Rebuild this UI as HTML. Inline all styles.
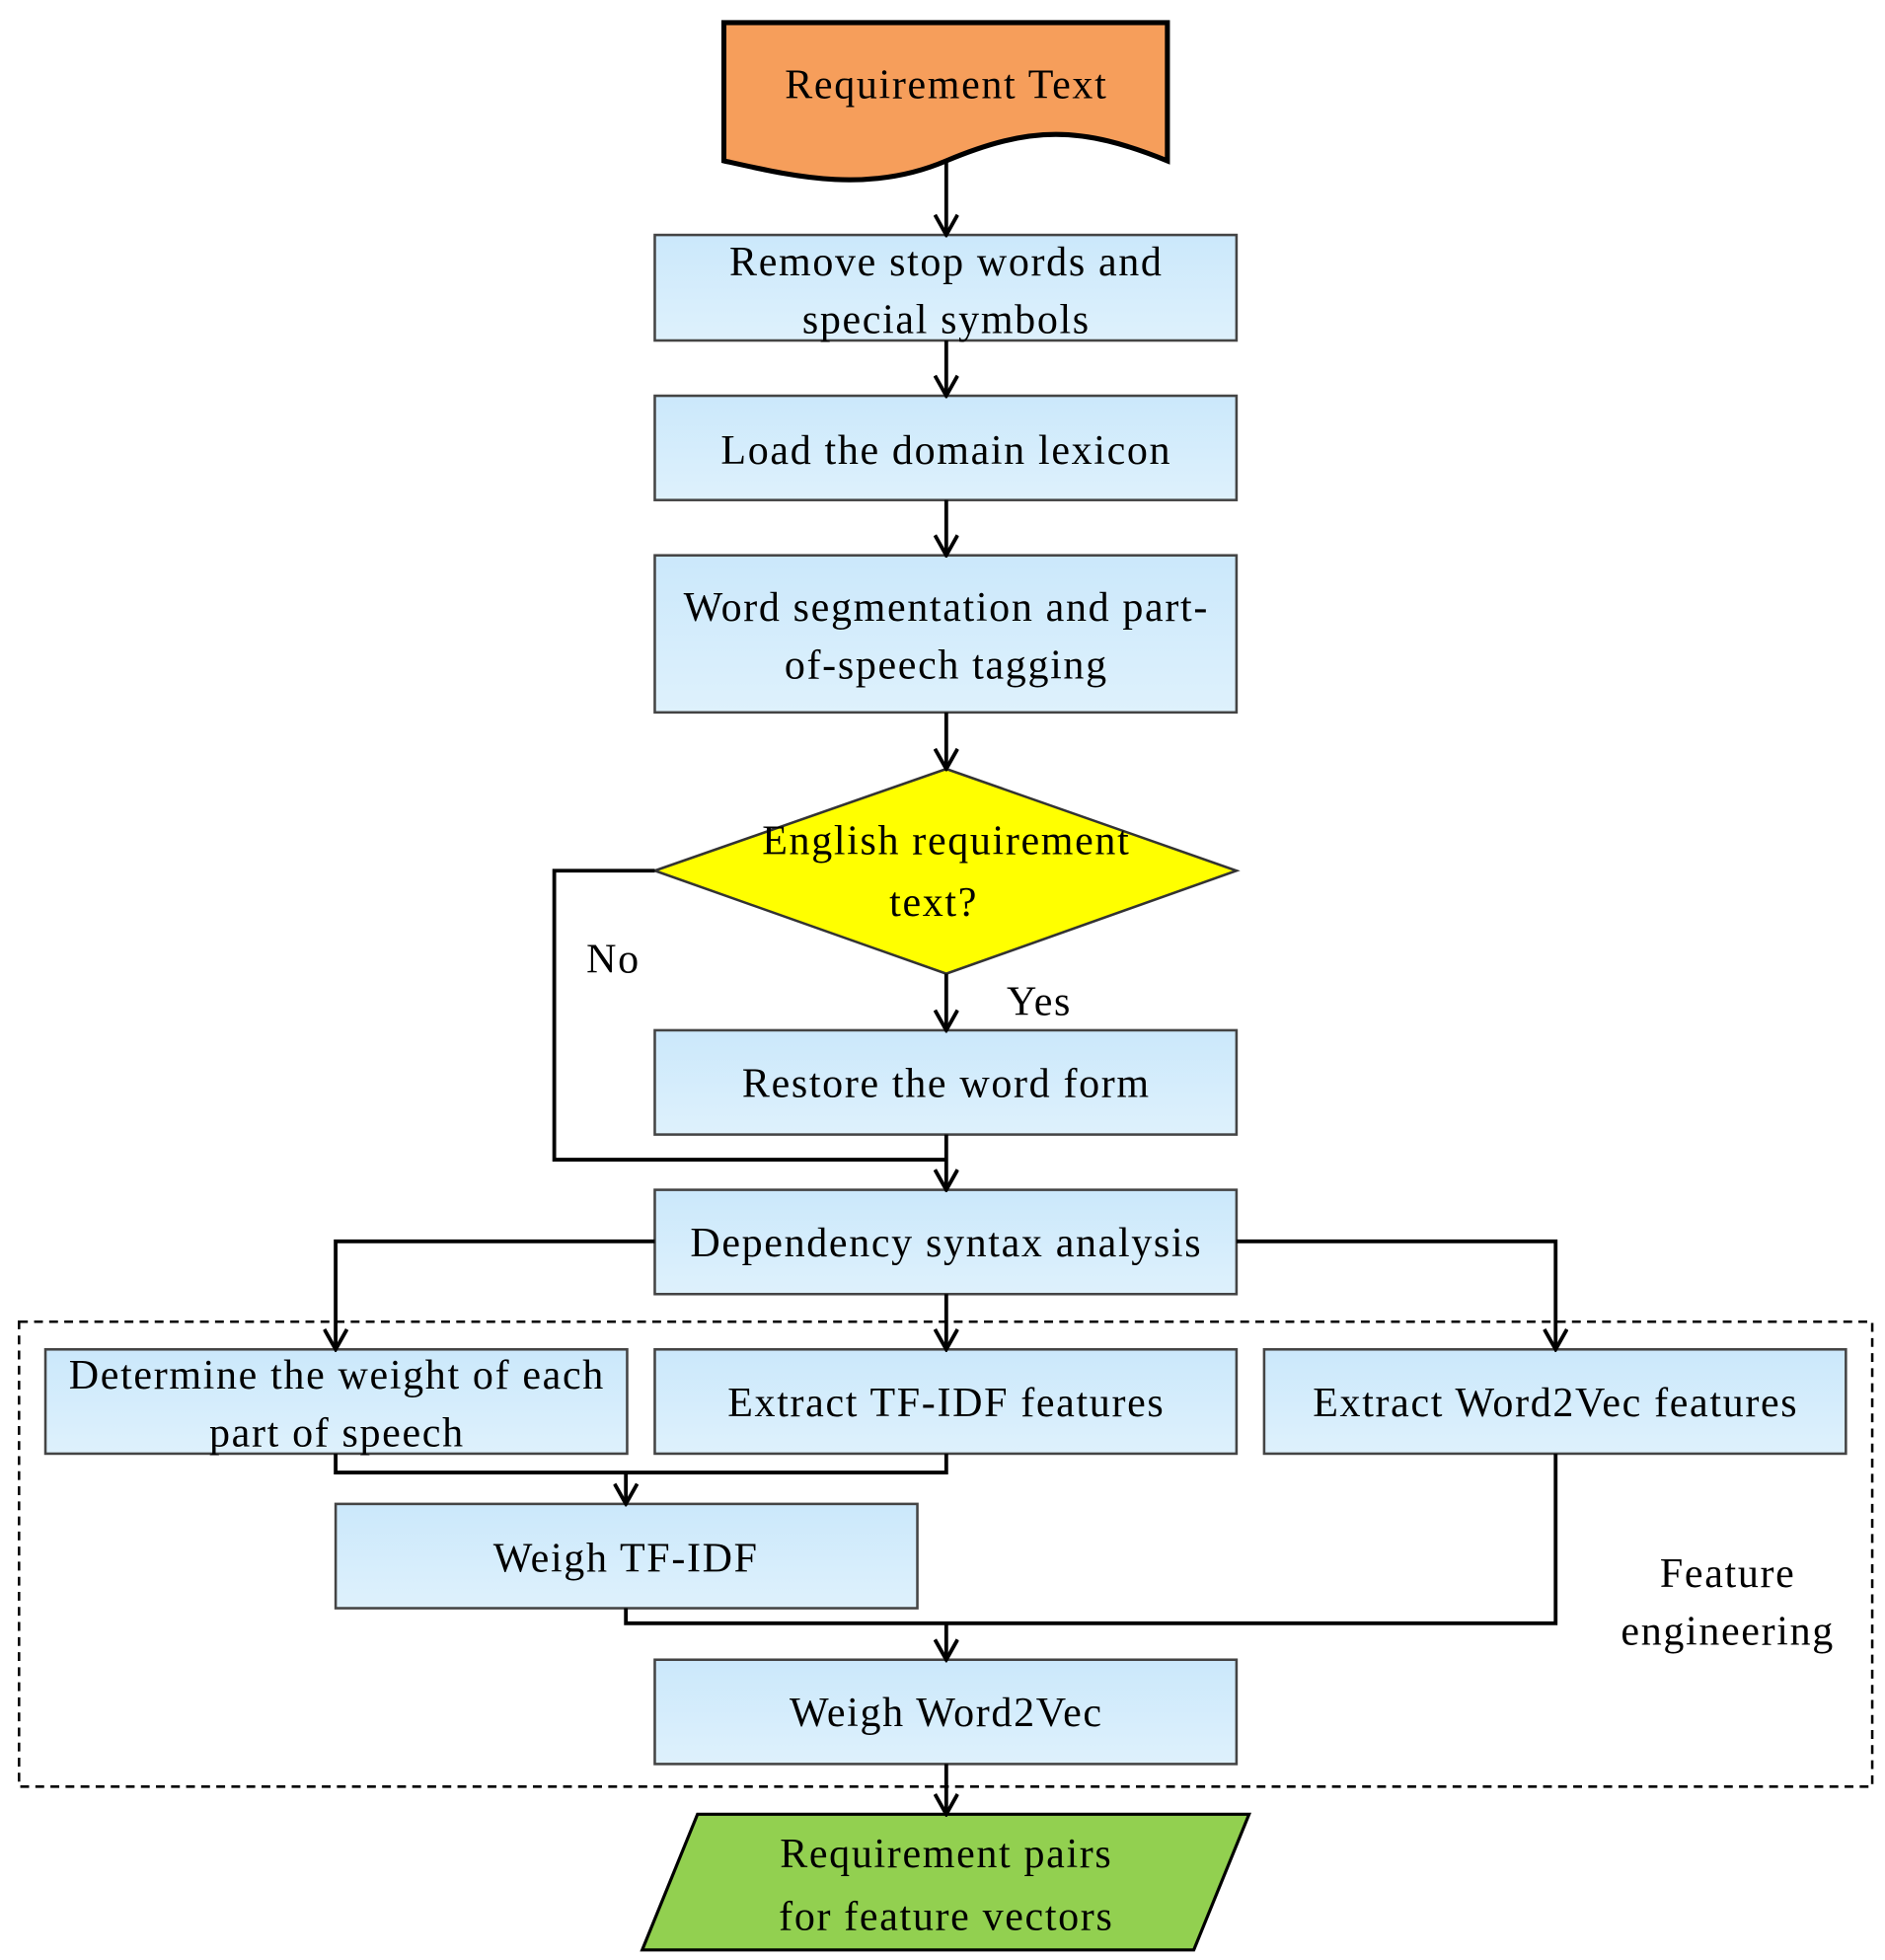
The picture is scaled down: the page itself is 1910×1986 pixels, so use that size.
<!DOCTYPE html>
<html><head><style>html,body{margin:0;padding:0;background:#fff}svg{display:block}</style></head><body>
<svg width="1910" height="1986" viewBox="0 0 1500 1560" xmlns="http://www.w3.org/2000/svg" font-family="Liberation Serif, serif" font-size="33" letter-spacing="1.3" text-anchor="middle">
<defs>
<linearGradient id="g" x1="0" y1="0" x2="0" y2="1"><stop offset="0" stop-color="#CBE8FB"/><stop offset="1" stop-color="#DEF1FC"/></linearGradient>
<marker id="a" viewBox="0 0 20 20" refX="18" refY="10" markerWidth="20" markerHeight="20" markerUnits="userSpaceOnUse" orient="auto"><path d="M2,1 L18,10 L2,19" fill="none" stroke="#000" stroke-width="3"/></marker>
</defs>
<path d="M576,18 H929 V128 C860,100 820,100 753,128 C690,155 630,140 576,128 Z" fill="#F69E5B" stroke="#000" stroke-width="4"/>
<text x="753" y="78">Requirement Text</text>
<g fill="url(#g)" stroke="#444" stroke-width="2">
<rect x="521" y="187" width="463" height="84"/>
<rect x="521" y="315" width="463" height="83"/>
<rect x="521" y="442" width="463" height="125"/>
<rect x="521" y="820" width="463" height="83"/>
<rect x="521" y="947" width="463" height="83"/>
<rect x="36" y="1074" width="463" height="83"/>
<rect x="521" y="1074" width="463" height="83"/>
<rect x="1006" y="1074" width="463" height="83"/>
<rect x="267" y="1197" width="463" height="83"/>
<rect x="521" y="1321" width="463" height="83"/>
</g>
<path d="M521,693 L753,612 L984,693 L753,775 Z" fill="#FFFF00" stroke="#333" stroke-width="2"/>
<path d="M555,1444 H994 L950,1552 H511 Z" fill="#92D050" stroke="#000" stroke-width="2.5"/>
<rect x="15" y="1052" width="1475" height="370" fill="none" stroke="#000" stroke-width="2" stroke-dasharray="7,5"/>
<g fill="none" stroke="#000" stroke-width="3">
<path d="M753,128 V187" marker-end="url(#a)"/>
<path d="M753,271 V315" marker-end="url(#a)"/>
<path d="M753,398 V442" marker-end="url(#a)"/>
<path d="M753,567 V612" marker-end="url(#a)"/>
<path d="M753,775 V820" marker-end="url(#a)"/>
<path d="M753,903 V947" marker-end="url(#a)"/>
<path d="M521,693 H441 V923 H753"/>
<path d="M521,988 H267 V1074" marker-end="url(#a)"/>
<path d="M984,988 H1238 V1074" marker-end="url(#a)"/>
<path d="M753,1030 V1074" marker-end="url(#a)"/>
<path d="M267,1157 V1172 H753 V1157"/>
<path d="M498,1172 V1197" marker-end="url(#a)"/>
<path d="M498,1280 V1292 H1238 V1157"/>
<path d="M753,1292 V1321" marker-end="url(#a)"/>
<path d="M753,1404 V1444" marker-end="url(#a)"/>
</g>
<g fill="#000">
<text x="753" y="219">Remove stop words and</text>
<text x="753" y="265">special symbols</text>
<text x="753" y="369">Load the domain lexicon</text>
<text x="753" y="494">Word segmentation and part-</text>
<text x="753" y="540">of-speech tagging</text>
<text x="753" y="680">English requirement</text>
<text x="743" y="729">text?</text>
<text x="488" y="774">No</text>
<text x="827" y="808">Yes</text>
<text x="753" y="873">Restore the word form</text>
<text x="753" y="1000">Dependency syntax analysis</text>
<text x="268" y="1105">Determine the weight of each</text>
<text x="268" y="1151">part of speech</text>
<text x="753" y="1127">Extract TF-IDF features</text>
<text x="1238" y="1127">Extract Word2Vec features</text>
<text x="498" y="1251">Weigh TF-IDF</text>
<text x="1375" y="1263">Feature</text>
<text x="1375" y="1309">engineering</text>
<text x="753" y="1374">Weigh Word2Vec</text>
<text x="753" y="1486">Requirement pairs</text>
<text x="753" y="1536">for feature vectors</text>
</g>
</svg>
</body></html>
